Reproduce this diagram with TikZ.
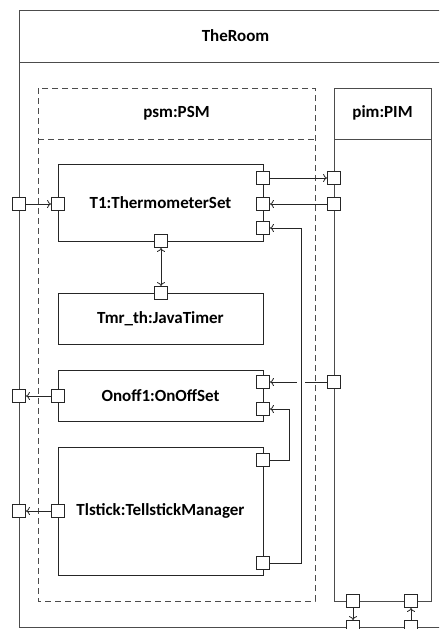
\documentclass[tikz,border=0pt]{standalone}
\usepackage{fontspec}
\setmainfont{Carlito}
\usetikzlibrary{arrows.meta}

\begin{document}
\begin{tikzpicture}[x=1pt,y=-1pt,
        line width=0.8pt,
        >={To[length=4pt,width=8pt]},
        frame/.style={draw=black!70},
        part/.style={draw=black!85,minimum width=205pt,inner sep=0pt},
        port/.style={draw=black!85,fill=white,minimum size=13pt,inner sep=0pt},
        lbl/.style={font=\fontsize{17}{20}\selectfont\bfseries},
        conn/.style={->,draw=black!85}]
        \useasboundingbox (0,0) rectangle (439,629);
        \clip (0,0) rectangle (439,629);

        % Room
        \draw[frame] (452,627) -- (19,627) -- (19,10) -- (452,10);
        \draw[frame] (19,62) -- (452,62);
        \node[lbl] (room) at (235.5,36) {TheRoom};

        % PSM
        \draw[frame,dashed,dash pattern=on 6pt off 4pt] (38,88) rectangle (315,601);
        \draw[frame,dashed,dash pattern=on 6pt off 4pt] (38,139) -- (315,139);
        \node[lbl] (psm) at (176.5,113) {psm:PSM};

        % PIM
        \draw[frame] (334,88) rectangle (431,601);
        \draw[frame] (334,139) -- (431,139);
        \node[lbl] (pim) at (382.5,113) {pim:PIM};

        % Parts
        \node[part,lbl,minimum height=77pt] (t1) at (160.5,202.5) {T1:ThermometerSet};
        \node[part,lbl,minimum height=51pt] (tmr) at (160.5,318.5) {Tmr\_th:JavaTimer};
        \node[part,lbl,minimum height=51pt] (onoff) at (160.5,395.5) {Onoff1:OnOffSet};
        \node[part,lbl,minimum height=128pt] (tlstick) at (160.5,511) {Tlstick:TellstickManager};

        % Ports
        \node[port] (roomA) at (19,204) {};
        \node[port] (roomB) at (19,396) {};
        \node[port] (roomC) at (19,511) {};
        \node[port] (roomD) at (353,627) {};
        \node[port] (roomE) at (411,627) {};

        \node[port] (t1In) at (58,204) {};
        \node[port] (t1A) at (263,178) {};
        \node[port] (t1B) at (263,204) {};
        \node[port] (t1C) at (263,228) {};
        \node[port] (t1Tmr) at (161,241) {};
        \node[port] (tmrP) at (161,293) {};

        \node[port] (onOut) at (58,396) {};
        \node[port] (onA) at (263,382) {};
        \node[port] (onB) at (263,409) {};

        \node[port] (tlOut) at (58,511) {};
        \node[port] (tlA) at (263,460) {};
        \node[port] (tlB) at (263,563) {};

        \node[port] (pimA) at (334,178) {};
        \node[port] (pimB) at (334,204) {};
        \node[port] (pimC) at (334,382) {};
        \node[port] (pimD) at (353,601) {};
        \node[port] (pimE) at (411,601) {};

        % Connectors
        \draw[conn] (roomA) -- (t1In);
        \draw[conn] (t1A) -- (pimA);
        \draw[conn] (pimB) -- (t1B);
        \draw[conn,<->] (t1Tmr) -- (tmrP);
        \draw[conn] (onOut) -- (roomB);
        \draw[conn] (pimC) -- (onA);
        \draw[conn] (tlOut) -- (roomC);
        \draw[conn] (tlA) -- ++(26,0) |- (onB);
        \coordinate (hop) at (301,382);
        \fill[white] (297,378) rectangle (305,386);  % line jump
        \draw[conn] (tlB) -- ++(38,0) |- (t1C);
        \draw[conn] (pimD) -- (roomD);
        \draw[conn] (roomE) -- (pimE);
\end{tikzpicture}
\end{document}
